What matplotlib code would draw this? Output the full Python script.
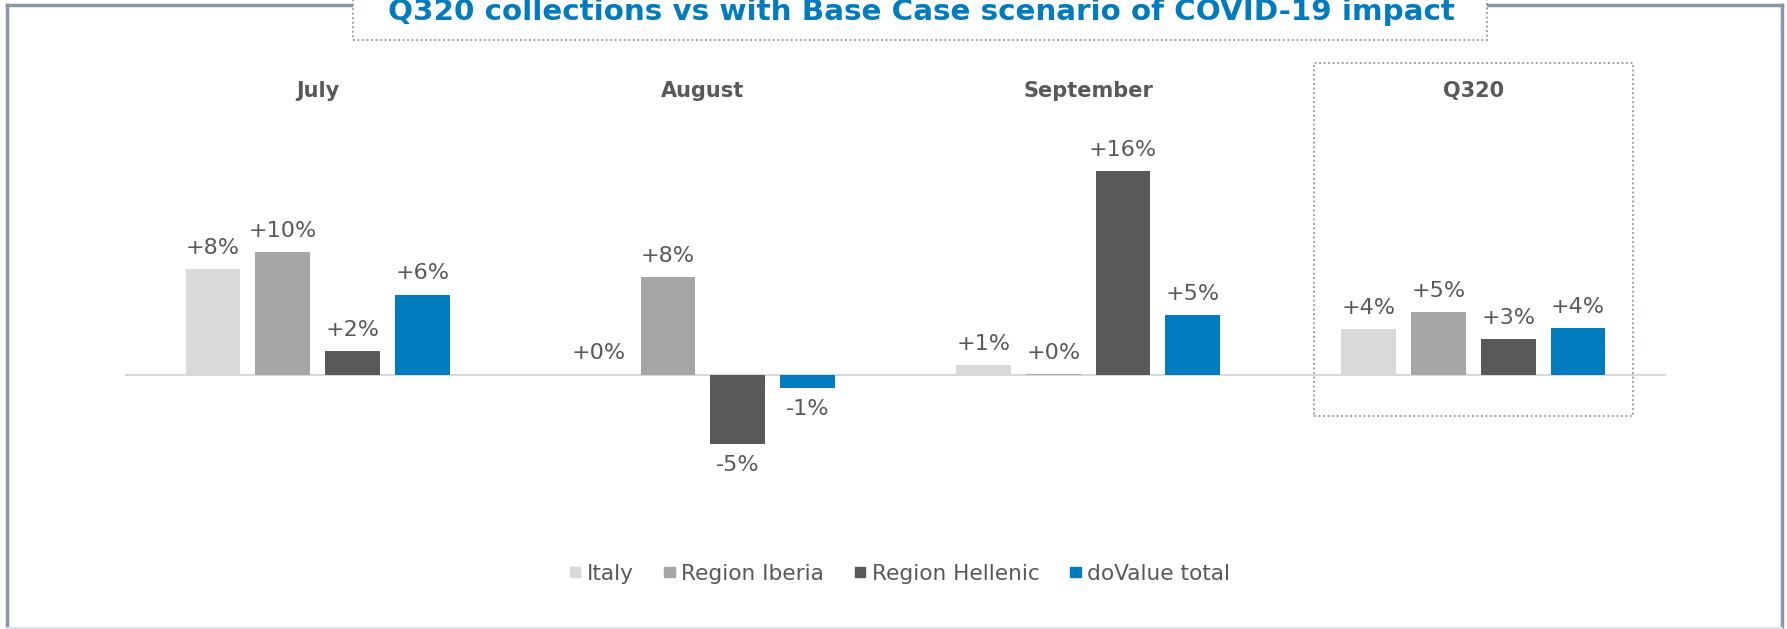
import matplotlib.pyplot as plt
import numpy as np
from matplotlib.patches import Rectangle, Patch
from matplotlib.lines import Line2D
from matplotlib.transforms import blended_transform_factory

# chart data (percent vs base case)
periods = ['July', 'August', 'September', 'Q320']
regions = ['Italy', 'Region Iberia', 'Region Hellenic', 'doValue total']
italy = [8.3, 0.1, 0.8, 3.6]
iberia = [9.6, 7.7, 0.1, 4.9]
hellenic = [1.9, -5.4, 16.0, 2.8]
dovalue = [6.3, -1.0, 4.7, 3.7]

colors = ['#d9d9d9', '#a6a6a6', '#595959', '#007bbd']
grey_text = '#595959'
frame_col = '#8a95a6'
title = 'Q320 collections vs with Base Case scenario of COVID-19 impact'

W, H = 1787, 629
fig = plt.figure(figsize=(W / 100, H / 100), dpi=100)

# axes placed by pixel measurements of the reference
ax = fig.add_axes([125 / W, 1 - 450 / H, (1666 - 125) / W, 350 / H])
ax.set_xlim(-0.5, 3.5)
ax.set_ylim(-5.88, 21.55)
ax.axis('off')
ax.axhline(0, color='#d9d9d9', lw=1.5, zorder=1)

x = np.arange(len(periods))
width = 0.142
pitch = 0.181
for i, (vals, col) in enumerate(zip([italy, iberia, hellenic, dovalue], colors)):
    bars = ax.bar(x + (i - 1.5) * pitch, vals, width, color=col, zorder=2)
    labels = ['{:+.0f}%'.format(v) for v in vals]
    ax.bar_label(bars, labels=labels, padding=8, fontsize=16, color=grey_text)

# period headers
trans = blended_transform_factory(ax.transData, fig.transFigure)
for xi, p in zip(x, periods):
    ax.text(xi, 1 - 91 / H, p, transform=trans, ha='center', va='center',
            fontsize=15, fontweight='bold', color=grey_text)

# dotted box around Q320
ax.add_patch(Rectangle((3 - 0.414, 1 - 416 / H), 0.828, (416 - 63) / H, transform=trans,
                       fill=False, ec=frame_col, ls=(0, (1, 1.5)), lw=1.3, clip_on=False))

# outer frame
fig.add_artist(Line2D([7 / W, 7 / W], [0, 1 - 4.5 / H], color=frame_col, lw=2.5))
fig.add_artist(Line2D([1782 / W, 1782 / W], [0, 1 - 4.5 / H], color=frame_col, lw=2.5))
fig.add_artist(Line2D([7 / W, 1782 / W], [1 - 4.5 / H, 1 - 4.5 / H], color=frame_col, lw=2.5))
fig.add_artist(Line2D([7 / W, 1782 / W], [1 / H, 1 / H], color='#dde1e8', lw=1.5))

# title box
fig.add_artist(Rectangle((353 / W, 1 - 40 / H), (1487 - 353) / W, 60 / H, transform=fig.transFigure,
                         fc='white', ec=frame_col, ls=(0, (1, 1.5)), lw=1.3, zorder=5))
fig.text(921 / W, 1 - 20 / H, title, ha='center', va='baseline', fontsize=21.2,
         fontweight='bold', color='#007bbd', zorder=6)

# legend
handles = [Patch(color=c) for c in colors]
fig.legend(handles, regions, loc='center', bbox_to_anchor=(900 / W, 1 - 574 / H), ncol=4,
           frameon=False, fontsize=15.6, handlelength=0.5, handleheight=0.34,
           handletextpad=0.3, columnspacing=1.4, labelcolor=grey_text)

plt.savefig('out.png', dpi=100)
